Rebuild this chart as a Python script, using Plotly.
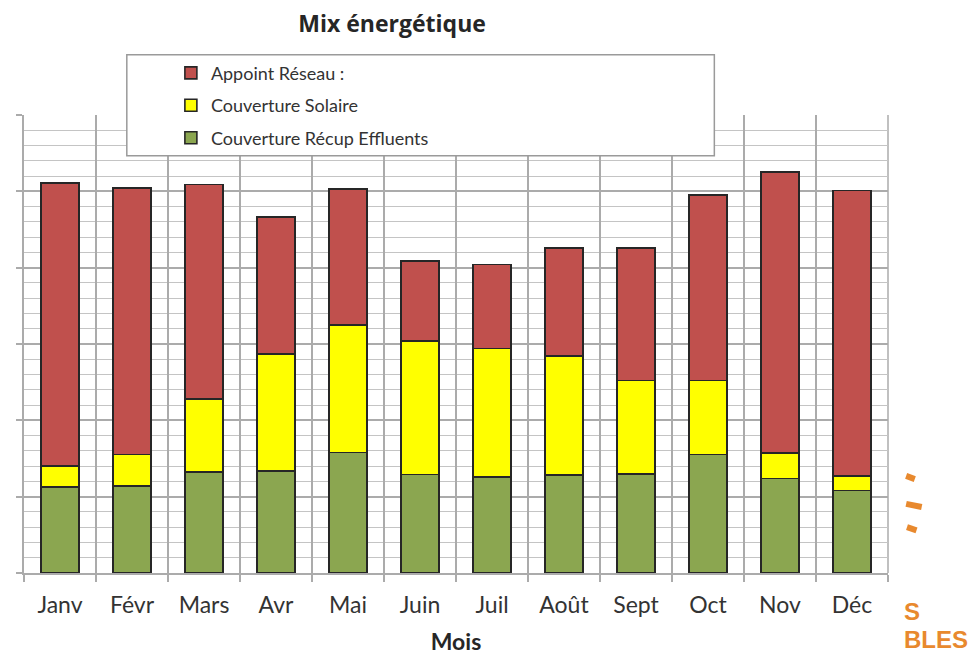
import plotly.graph_objects as go

months = ["Janv", "Févr", "Mars", "Avr", "Mai", "Juin", "Juil", "Août", "Sept", "Oct", "Nov", "Déc"]
recup_effluents = [11.3, 11.4, 13.2, 13.4, 15.8, 12.9, 12.6, 12.8, 13.0, 15.5, 12.4, 10.8]
couverture_solaire = [2.7, 4.1, 9.6, 15.3, 16.7, 17.5, 16.8, 15.6, 12.2, 9.7, 3.3, 1.9]
appoint_reseau = [37.1, 34.9, 28.1, 17.9, 17.8, 10.5, 11.0, 14.2, 17.4, 24.3, 36.8, 37.4]

outline = dict(color="#262626", width=1.6)
fig = go.Figure()
fig.add_trace(go.Bar(x=months, y=recup_effluents, name="Couverture Récup Effluents",
                     marker=dict(color="#8ba650", line=outline), legendgroup="c", legendrank=3))
fig.add_trace(go.Bar(x=months, y=couverture_solaire, name="Couverture Solaire",
                     marker=dict(color="#ffff00", line=outline), legendgroup="b", legendrank=2))
fig.add_trace(go.Bar(x=months, y=appoint_reseau, name="Appoint Réseau :",
                     marker=dict(color="#c0504d", line=outline), legendgroup="a", legendrank=1))

grid = "#ababab"
# the page body adds an 8px margin, so the figure is 8px smaller on each axis
fig.update_layout(
    width=968, height=647,
    barmode="stack", bargap=0.47,
    paper_bgcolor="white", plot_bgcolor="white",
    margin=dict(l=16, r=88, t=107, b=82, autoexpand=False),
    font=dict(family="Lato, Open Sans, sans-serif", color="#333333"),
    title=dict(text="<b>Mix énergétique</b>", xref="paper", x=0.426, xanchor="center",
               yref="container", y=0.9753, yanchor="middle",
               font=dict(size=23, color="#262626", family="Open Sans")),
    showlegend=True,
    legend=dict(x=0.170, xanchor="left", y=1.1317, yanchor="top",
                traceorder="grouped", tracegroupgap=6,
                bgcolor="rgba(0,0,0,0)", font=dict(size=18, color="#333333"),
                itemwidth=30),
    xaxis=dict(type="category", tickson="boundaries", showgrid=True, gridcolor=grid,
               gridwidth=1.5, ticks="outside", ticklen=7, tickcolor=grid, tickwidth=1.5,
               showline=True, linecolor=grid, linewidth=1.5, automargin=False,
               ticklabelstandoff=11,
               tickfont=dict(size=23, color="#333333"),
               title=dict(text="<b>Mois</b>", font=dict(size=23, color="#262626"), standoff=23)),
    yaxis=dict(range=[0, 60], dtick=10, showticklabels=False, showgrid=True, gridcolor=grid,
               gridwidth=1.5, ticks="outside", ticklen=6, tickcolor=grid, tickwidth=1.5,
               showline=True, linecolor=grid, linewidth=1.5, zeroline=False, automargin=False,
               minor=dict(dtick=2, showgrid=True, gridcolor="#c4c4c4", gridwidth=1.2)),
    shapes=[
        dict(type="rect", xref="paper", yref="paper", x0=0.119, x1=0.799, y0=0.911, y1=1.1317,
             fillcolor="white", line=dict(color="#9a9a9a", width=1.5), layer="above"),
        dict(type="line", xref="paper", yref="paper", x0=1.0, x1=1.0, y0=0, y1=1,
             line=dict(color=grid, width=1.5), layer="below"),
    ],
)

# decorative orange fragments at the right edge
orange = "#e8892e"
fig.add_annotation(text="<b>S</b>", xref="paper", yref="paper", x=1.017, y=-0.0845,
                   xanchor="left", yanchor="middle", showarrow=False, borderpad=0,
                   font=dict(size=24, color=orange, family="Liberation Sans"))
fig.add_annotation(text="<b>BLES</b>", xref="paper", yref="paper", x=1.017, y=-0.176,
                   xanchor="left", yanchor="bottom", showarrow=False, borderpad=0,
                   font=dict(size=24, color=orange, family="Liberation Sans"))
for yy, x0, x1 in [(0.212, 1.021, 1.031), (0.151, 1.021, 1.039), (0.100, 1.022, 1.033)]:
    fig.add_shape(type="line", xref="paper", yref="paper", x0=x0, x1=x1, y0=yy, y1=yy - 0.007,
                  line=dict(color=orange, width=6), layer="above")

fig.write_html("out.html")
